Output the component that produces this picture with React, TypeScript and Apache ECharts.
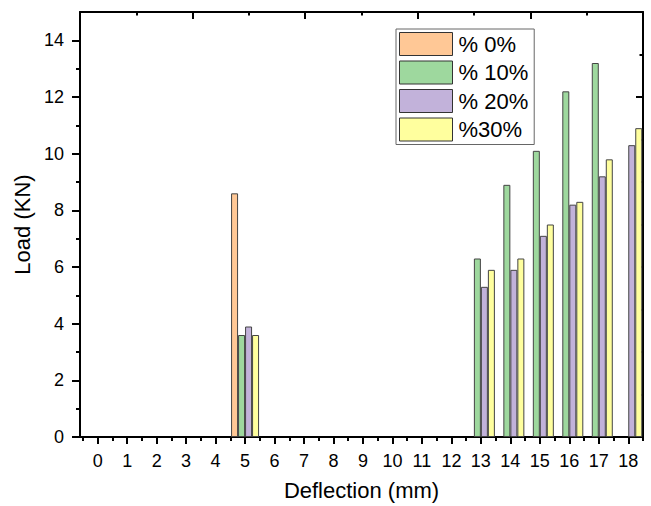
import React, { useEffect, useRef } from "react";
import * as echarts from "echarts";

const deflection = [0, 1, 2, 3, 4, 5, 6, 7, 8, 9, 10, 11, 12, 13, 14, 15, 16, 17, 18];
const load0 = [0, 0, 0, 0, 0, 8.6, 0, 0, 0, 0, 0, 0, 0, 0, 0, 0, 0, 0, 0];
const load10 = [0, 0, 0, 0, 0, 3.6, 0, 0, 0, 0, 0, 0, 0, 6.3, 8.9, 10.1, 12.2, 13.2, 0];
const load20 = [0, 0, 0, 0, 0, 3.9, 0, 0, 0, 0, 0, 0, 0, 5.3, 5.9, 7.1, 8.2, 9.2, 10.3];
const load30 = [0, 0, 0, 0, 0, 3.6, 0, 0, 0, 0, 0, 0, 0, 5.9, 6.3, 7.5, 8.3, 9.8, 10.9];
const seriesNames = ["% 0%", "% 10%", "% 20%", "%30%"];
const seriesColors = ["#FFC896", "#9ED89E", "#C2B2DA", "#FFFF9E"];
const yMajorTicks = [0, 2, 4, 6, 8, 10, 12, 14];
const yMinorTicks = [1, 3, 5, 7, 9, 11, 13];
const xMinorTicks = [-0.5, 0.5, 1.5, 2.5, 3.5, 4.5, 5.5, 6.5, 7.5, 8.5, 9.5, 10.5, 11.5, 12.5, 13.5, 14.5, 15.5, 16.5, 17.5, 18.5];

const FONT = "'Liberation Sans', Arial, sans-serif";

export default function App() {
  const ref = useRef<HTMLDivElement>(null);
  useEffect(() => {
    if (!ref.current) return;
    const chart = echarts.init(ref.current, null, { renderer: "svg" });
    const toData = (vals: number[]) =>
      deflection.map((x, i) => [x, vals[i]]).filter((d) => d[1] > 0);
    const all = [load0, load10, load20, load30];
    const axisLine = { show: true, onZero: false, lineStyle: { color: "#000", width: 2 } };
    const noLine = { show: false, onZero: false };
    chart.setOption({
      animation: false,
      backgroundColor: "#fff",
      textStyle: { fontFamily: FONT },
      grid: { left: 80, right: 8, top: 12, bottom: 68, containLabel: false },
      legend: {
        orient: "vertical",
        left: 396,
        top: 29,
        padding: [3, 6, 3, 3],
        itemWidth: 53,
        itemHeight: 23,
        itemGap: 4.5,
        borderColor: "#666",
        borderWidth: 1,
        icon: "rect",
        itemStyle: { borderColor: "#333", borderWidth: 1 },
        textStyle: { fontFamily: FONT, fontSize: 22, color: "#000", padding: [0, 0, 0, 1] },
        data: seriesNames,
      },
      xAxis: [
        {
          type: "value",
          position: "bottom",
          min: -0.6,
          max: 18.5,
          name: "Deflection (mm)",
          nameLocation: "middle",
          nameGap: 42,
          nameTextStyle: { fontFamily: FONT, fontSize: 22, color: "#000" },
          axisLine,
          axisTick: { show: true, inside: false, length: 7, lineStyle: { color: "#000", width: 2 }, customValues: deflection },
          axisLabel: { show: true, fontFamily: FONT, fontSize: 18, color: "#000", margin: 15, customValues: deflection },
          splitLine: { show: false },
        },
        {
          type: "value",
          position: "bottom",
          min: -0.6,
          max: 18.5,
          axisLine: noLine,
          axisTick: { show: true, inside: false, length: 4, lineStyle: { color: "#000", width: 2 }, customValues: xMinorTicks },
          axisLabel: { show: false },
          splitLine: { show: false },
        },
        {
          type: "value",
          position: "top",
          min: 0,
          max: 5,
          interval: 1,
          axisLine,
          axisTick: { show: true, inside: true, length: 7, lineStyle: { color: "#000", width: 2 } },
          minorTick: { show: true, splitNumber: 2, length: 3.5, lineStyle: { color: "#000", width: 2 } },
          axisLabel: { show: false },
          splitLine: { show: false },
        },
      ],
      yAxis: [
        {
          type: "value",
          position: "left",
          min: 0,
          max: 15,
          name: "Load (KN)",
          nameLocation: "middle",
          nameGap: 42,
          nameTextStyle: { fontFamily: FONT, fontSize: 22, color: "#000" },
          axisLine,
          axisTick: { show: true, inside: false, length: 8, lineStyle: { color: "#000", width: 2 }, customValues: yMajorTicks },
          axisLabel: { show: true, fontFamily: FONT, fontSize: 18, color: "#000", margin: 16, customValues: yMajorTicks },
          splitLine: { show: false },
        },
        {
          type: "value",
          position: "left",
          min: 0,
          max: 15,
          axisLine: noLine,
          axisTick: { show: true, inside: false, length: 4, lineStyle: { color: "#000", width: 2 }, customValues: yMinorTicks },
          axisLabel: { show: false },
          splitLine: { show: false },
        },
        {
          type: "value",
          position: "right",
          min: 0,
          max: 5,
          interval: 1,
          axisLine,
          axisTick: { show: true, inside: true, length: 7, lineStyle: { color: "#000", width: 2 } },
          minorTick: { show: true, splitNumber: 2, length: 3.5, lineStyle: { color: "#000", width: 2 } },
          axisLabel: { show: false },
          splitLine: { show: false },
        },
      ],
      series: seriesNames.map((name, i) => ({
        name,
        type: "bar",
        xAxisIndex: 0,
        yAxisIndex: 0,
        barWidth: 7,
        barGap: "0%",
        itemStyle: { color: seriesColors[i], borderColor: "#444", borderWidth: 1 },
        data: toData(all[i]),
      })),
    });
    return () => chart.dispose();
  }, []);
  return (
    <div
      ref={ref}
      style={{ position: "fixed", left: 0, top: 0, width: 651, height: 506, background: "#fff" }}
    />
  );
}
